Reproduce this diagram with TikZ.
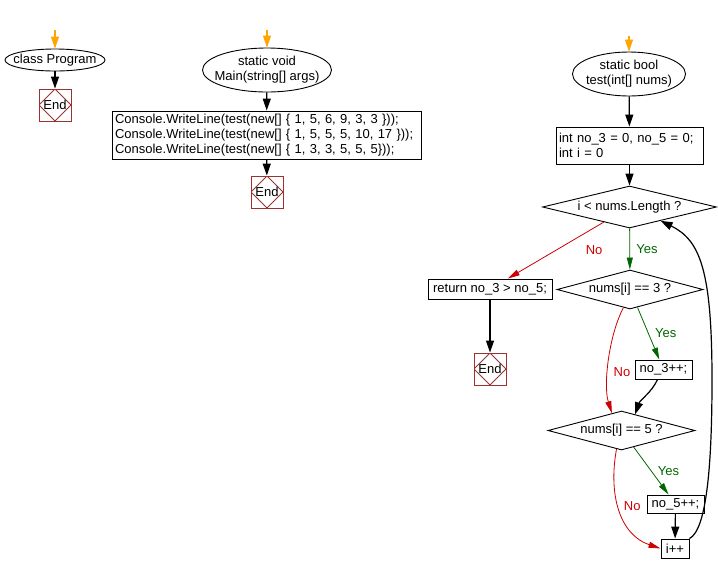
\documentclass[tikz,border=0pt]{standalone}
\usepackage{fontspec}
\setmainfont{Liberation Sans}
\usetikzlibrary{shapes.geometric, arrows.meta, positioning, calc}

\definecolor{startorange}{RGB}{255,165,0}
\definecolor{endred}{RGB}{153,51,51}
\definecolor{nored}{RGB}{204,0,0}
\definecolor{yesgreen}{RGB}{0,102,0}

\begin{document}
\begin{tikzpicture}[
  x=1pt, y=-1pt,
  font=\fontsize{13}{15}\selectfont,
  startell/.style = {draw, ellipse, inner xsep=-12pt, inner ysep=-2pt, align=center,
                     line width=0.9pt},
  procbox/.style  = {draw, rectangle, inner xsep=3pt, inner ysep=1pt, align=left,
                     line width=0.9pt},
  decide/.style   = {draw, diamond, inner sep=0pt, line width=0.9pt},
  endbox/.style   = {draw=endred, minimum size=32pt, inner sep=0pt, line width=0.9pt,
                     path picture={\draw[endred, line width=0.9pt]
                       (path picture bounding box.north) -- (path picture bounding box.east)
                       -- (path picture bounding box.south) -- (path picture bounding box.west)
                       -- cycle;}},
  arrow/.style    = {-{Triangle[width=8pt,length=12pt]}, line width=1.2pt},
  startarrow/.style = {arrow, startorange},
  yes/.style      = {-{Triangle[width=6pt,length=12pt]}, yesgreen, line width=0.8pt},
  no/.style       = {-{Triangle[width=6pt,length=12pt]}, nored, line width=0.8pt},
  yeslbl/.style   = {text=yesgreen, right, xshift=3pt},
  nolbl/.style    = {text=nored}
]
  \useasboundingbox (0,0) rectangle (718,574);

  % class Program
  \coordinate (clsin) at (55,30);
  \node[startell, minimum width=100pt, minimum height=22pt] (cls) at (55,60) {class Program};
  \node[endbox] (clsend) at (55,105) {End};

  \draw[startarrow] (clsin) -- (cls);
  \draw[arrow] (cls) -- (clsend);

  % Main
  \coordinate (mainin) at (267,30);
  \node[startell, minimum width=129pt, minimum height=44pt] (main) at (267,70)
    {static void\\Main(string[] args)};
  \node[procbox, text width=303pt, minimum height=48pt] (calls) at (266.5,135)
    {Console.WriteLine(test(new[] \{ 1, 5, 6, 9, 3, 3 \}));\\
     Console.WriteLine(test(new[] \{ 1, 5, 5, 5, 10, 17 \}));\\
     Console.WriteLine(test(new[] \{ 1, 3, 3, 5, 5, 5\}));};
  \node[endbox] (mainend) at (267,192) {End};

  \draw[startarrow] (mainin) -- (main);
  \draw[arrow] (main) -- (calls);
  \draw[arrow] (calls) -- (mainend);

  % test
  \coordinate (testin) at (629,36);
  \node[startell, minimum width=113pt, minimum height=44pt] (test) at (629,74)
    {static bool\\test(int[] nums)};
  \node[procbox, text width=141pt, minimum height=37pt] (init) at (629.5,145.5)
    {int no\_3 = 0, no\_5 = 0;\\int i = 0};
  \node[decide, aspect=4.1, minimum width=174pt, minimum height=42pt] (loop) at (629.5,207)
    {i < nums.Length ?};
  \node[decide, aspect=3.7, minimum width=146pt, minimum height=39pt] (chk3) at (630,289.5)
    {nums[i] == 3 ?};
  \node[procbox, minimum width=124pt, minimum height=20pt, inner sep=0pt, align=center]
    (ret) at (490,289) {return no\_3 > no\_5;};
  \node[endbox] (retend) at (490,369) {End};
  \node[procbox, minimum width=57pt, minimum height=19pt, inner sep=0pt, align=center]
    (inc3) at (663.5,369.5) {no\_3++;};
  \node[decide, aspect=3.7, minimum width=147pt, minimum height=39pt] (chk5) at (621.5,430.5)
    {nums[i] == 5 ?};
  \node[procbox, minimum width=57pt, minimum height=18pt, inner sep=0pt, align=center]
    (inc5) at (675.5,504) {no\_5++;};
  \node[procbox, minimum width=28pt, minimum height=19pt, inner sep=0pt, align=center]
    (incr) at (675,548.5) {i++};

  \draw[startarrow] (testin) -- (test);
  \draw[arrow] (test) -- (init);
  \draw[arrow] (init) -- (loop);
  \draw[yes] (loop) -- node[yeslbl]{Yes} (chk3);
  \draw[no] (loop) -- node[nolbl, pos=0.1, yshift=-22pt]{No} (ret);
  \draw[arrow] (ret) -- (retend);
  \draw[yes] (chk3) -- node[yeslbl]{Yes} (inc3);
  \draw[no] (chk3.250) .. controls (609,335) and (603,385) ..
    node[nolbl, pos=0.6, right, xshift=2pt]{No} (chk5.119);
  \draw[arrow] ([xshift=-6pt]inc3.south) .. controls (652,392) and (640,400) .. (chk5.50);
  \draw[yes] (chk5) -- node[yeslbl]{Yes} (inc5);
  \draw[no] (chk5.255) .. controls (608,495) and (620,535) ..
    node[nolbl, pos=0.45, right, xshift=2pt]{No} (incr.west);
  \draw[arrow] (inc5) -- (incr);
  \draw[arrow] (incr.north east) .. controls (706,530) and (712,470) .. (712,380)
    .. controls (712,270) and (700,240) .. (loop.336);
\end{tikzpicture}
\end{document}
